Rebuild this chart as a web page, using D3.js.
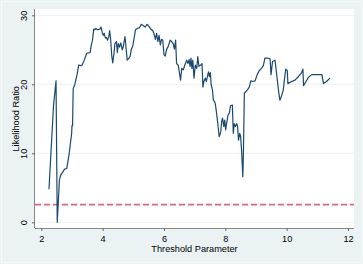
<!DOCTYPE html>
<html><head><meta charset="utf-8">
<script src="https://cdn.jsdelivr.net/npm/d3@7"></script>
<style>html,body{margin:0;padding:0;background:#eaf2f3;}svg{display:block;}</style>
</head><body>
<script>
const thresholds = [2.25,2.40,2.48,2.52,2.59,2.63,2.70,2.76,2.83,2.91,2.99,3.00,3.02,3.04,3.09,3.17,3.22,3.29,3.33,3.40,3.48,3.59,3.64,3.67,3.71,3.75,3.78,3.84,3.91,3.95,3.99,4.02,4.05,4.09,4.12,4.16,4.20,4.23,4.26,4.30,4.33,4.37,4.40,4.45,4.48,4.51,4.55,4.59,4.64,4.67,4.73,4.77,4.80,4.86,4.90,4.93,4.98,5.02,5.07,5.13,5.20,5.26,5.33,5.39,5.45,5.51,5.57,5.63,5.67,5.72,5.76,5.80,5.84,5.88,5.92,5.96,6.00,6.04,6.09,6.14,6.20,6.25,6.30,6.34,6.38,6.41,6.46,6.49,6.54,6.58,6.63,6.68,6.74,6.78,6.82,6.85,6.88,6.91,6.94,6.98,7.02,7.07,7.10,7.14,7.20,7.24,7.27,7.30,7.35,7.38,7.41,7.45,7.48,7.51,7.54,7.58,7.61,7.65,7.68,7.72,7.76,7.80,7.85,7.88,7.91,7.95,7.98,8.01,8.04,8.09,8.13,8.17,8.23,8.26,8.29,8.33,8.37,8.40,8.43,8.47,8.50,8.53,8.57,8.59,8.62,8.66,8.72,8.78,8.83,8.89,8.97,9.04,9.11,9.18,9.24,9.29,9.37,9.46,9.49,9.54,9.62,9.67,9.74,9.78,9.84,9.89,9.92,9.97,10.02,10.04,10.16,10.27,10.38,10.49,10.53,10.55,10.63,10.71,10.82,10.98,11.15,11.20,11.30,11.41];
const likelihoodRatio = [4.8,17.0,20.5,0.0,6.1,6.8,7.3,7.7,7.8,10.0,12.9,14.0,14.0,19.4,19.9,21.5,22.8,22.7,22.8,23.5,24.5,24.6,25.9,26.4,28.0,27.9,28.1,27.9,28.0,28.3,27.4,27.1,27.4,26.7,26.8,26.4,26.9,27.8,26.5,24.0,23.1,24.5,25.9,26.2,24.6,25.9,25.4,26.0,25.0,25.4,26.9,25.0,23.5,23.8,24.1,25.0,25.5,26.5,27.9,28.1,28.2,28.7,28.5,28.3,28.7,28.4,28.0,27.8,27.4,26.5,27.4,26.2,27.1,25.7,26.5,26.4,24.3,24.1,25.1,25.5,26.4,26.2,25.9,25.1,26.4,23.0,22.8,22.1,20.6,22.3,22.1,22.8,23.5,23.0,23.6,22.6,23.8,22.3,23.5,20.9,22.8,22.3,24.0,22.6,22.8,23.0,19.6,20.4,20.9,20.4,21.0,21.8,21.1,21.7,19.9,19.2,17.7,17.5,17.0,15.6,14.1,12.4,13.1,14.6,15.1,13.9,14.8,13.4,14.3,15.6,15.8,16.9,17.0,12.9,14.3,13.9,14.3,13.9,11.9,12.9,12.4,10.5,6.6,10.0,18.7,18.9,19.2,19.6,20.5,20.4,20.5,21.4,22.0,22.3,22.7,23.8,23.8,23.7,21.4,23.3,23.5,21.6,18.9,17.7,18.4,19.2,20.4,22.2,22.0,20.1,20.4,20.6,21.1,21.7,22.2,19.8,20.4,21.0,21.4,21.4,21.4,20.1,20.4,20.9];
const criticalValue = [2.55];
const xTicks = [2,4,6,8,10,12];
const yTicks = [0,10,20,30];

const W = 363, H = 264;
const svg = d3.select("body").append("svg").attr("width", W).attr("height", H);
svg.append("rect").attr("x",0).attr("y",0).attr("width",W).attr("height",H).attr("fill","#eaf2f3");
svg.append("rect").attr("x",1.5).attr("y",1.5).attr("width",W-3).attr("height",H-3).attr("fill","none").attr("stroke","#f4f8f8").attr("stroke-width",1);

const plotL = 35, plotR = 354, plotT = 9, plotB = 228;
svg.append("rect").attr("x",plotL).attr("y",plotT).attr("width",plotR-plotL).attr("height",plotB-plotT).attr("fill","#ffffff");

const x = d3.scaleLinear().domain([2,12]).range([41.3,348]);
const y = d3.scaleLinear().domain([0,30]).range([222.3,15.3]);

// gridlines
svg.append("g").selectAll("line").data(yTicks).join("line")
  .attr("x1",plotL).attr("x2",plotR)
  .attr("y1",d=>y(d)).attr("y2",d=>y(d))
  .attr("stroke","#eaf2f3").attr("stroke-width",1);

// critical value line
svg.append("g").selectAll("line").data(criticalValue).join("line")
  .attr("x1",plotL).attr("x2",plotR)
  .attr("y1",d=>y(d)).attr("y2",d=>y(d))
  .attr("stroke","#d56a80").attr("stroke-width",1.8)
  .attr("stroke-dasharray","6,3");

// data line
const line = d3.line().x((d,i)=>x(thresholds[i])).y(d=>y(d));
svg.append("path").datum(likelihoodRatio)
  .attr("d",line).attr("fill","none")
  .attr("stroke","#1a476f").attr("stroke-width",1.2).attr("stroke-linejoin","round");

const font = "'Liberation Sans', Arial, sans-serif";

// x axis
const xAxis = d3.axisBottom(x).tickValues(xTicks).tickSize(3).tickPadding(4).tickFormat(d3.format("d"));
const gx = svg.append("g").attr("transform",`translate(0,${plotB})`).call(xAxis);
gx.select(".domain").attr("d",`M${plotL},0.5H${plotR}`).attr("stroke","#888");
gx.selectAll(".tick line").attr("stroke","#666");
gx.selectAll("text").attr("font-family",font).attr("font-size","9.2px").attr("fill","#000");

// y axis
const yAxis = d3.axisLeft(y).tickValues(yTicks).tickSize(3).tickPadding(3).tickFormat(d3.format("d"));
const gy = svg.append("g").attr("transform",`translate(${plotL},0)`).call(yAxis);
gy.select(".domain").attr("d",`M-0.5,${plotT}V${plotB}`).attr("stroke","#888");
gy.selectAll(".tick line").attr("stroke","#666");
gy.selectAll("text").attr("font-family",font).attr("font-size","9.2px").attr("fill","#000")
  .attr("transform","rotate(-90)").attr("x",0).attr("y",-8).attr("dy","0").attr("text-anchor","middle");

// titles
svg.append("text").attr("x",(plotL+plotR)/2).attr("y",251.5).attr("text-anchor","middle")
  .attr("font-family",font).attr("font-size","9.2px").attr("fill","#000").text("Threshold Parameter");
svg.append("text").attr("transform",`translate(18.5,${(y(0)+y(30))/2}) rotate(-90)`).attr("text-anchor","middle")
  .attr("font-family",font).attr("font-size","9.2px").attr("fill","#000").text("Likelihood Ratio");
</script>
</body></html>
